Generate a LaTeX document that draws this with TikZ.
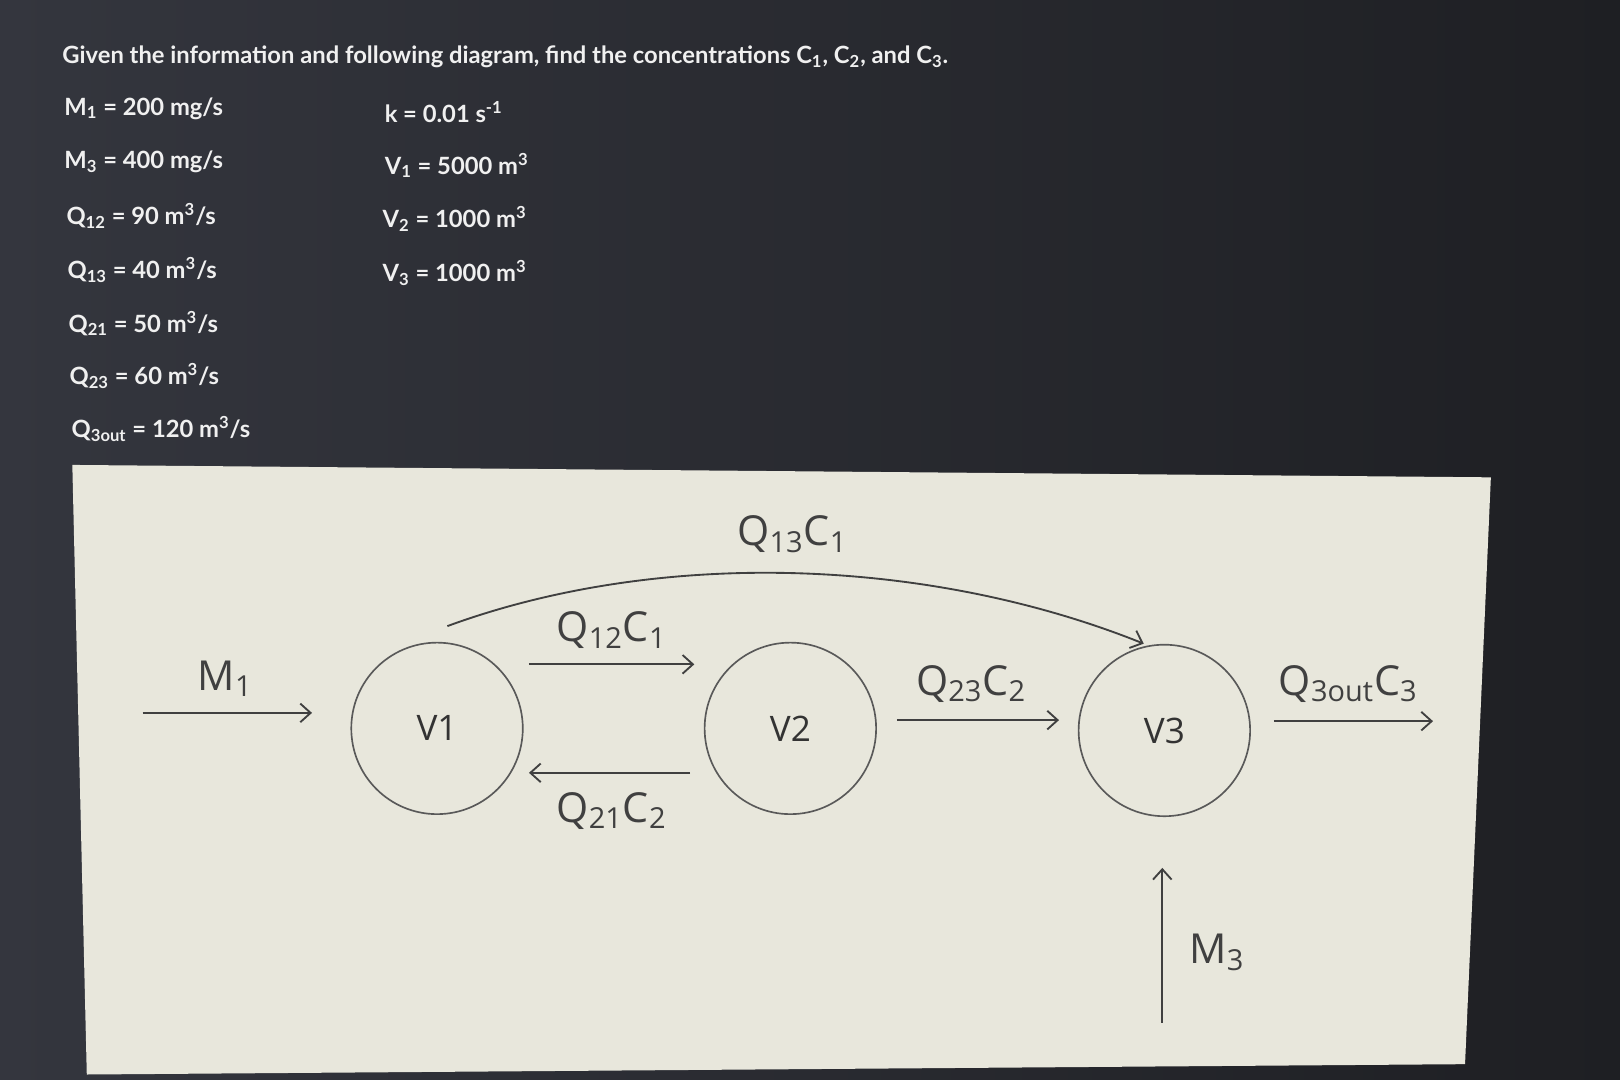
\documentclass[tikz,border=0pt]{standalone}
\usepackage{fontspec}
\setmainfont{Lato}
\newfontfamily\diag{Open Sans}
\usetikzlibrary{arrows.meta}
\newcommand{\sbs}[1]{\textsubscript{#1}}
\newcommand{\sps}[1]{\textsuperscript{#1}}
\begin{document}
\begin{tikzpicture}[x=0.5pt,y=-0.5pt,
  top/.style={anchor=west,text=white!88!gray,font=\fontsize{11.5}{14}\selectfont\bfseries,inner sep=0},
  lbl/.style={font=\diag\fontsize{20}{22}\selectfont,text=black!75,inner sep=0},
  vol/.style={circle,draw=black!65,line width=0.8pt,minimum size=83pt,font=\diag\fontsize{17}{20}\selectfont,text=black!80},
  arr/.style={-{Straight Barb[length=5pt,width=9pt]},draw=black!75,line width=0.9pt}]
\useasboundingbox (0,0) rectangle (1568,1045);
\fill[left color={rgb,255:red,52;green,54;blue,62}, right color={rgb,255:red,30;green,31;blue,35}] (0,0) rectangle (1568,1045);
\fill[color={rgb,255:red,232;green,231;blue,220}] (70,450) -- (1443,462) -- (1418,1030) -- (84,1040) -- cycle;
\node[top] (t0) at (60,55) {Given the information and following diagram, find the concentrations C\sbs{1}, C\sbs{2}, and C\sbs{3}.};
\node[top] (a1) at (62,105) {M\sbs{1} = 200 mg/s};
\node[top] (a2) at (62,157) {M\sbs{3} = 400 mg/s};
\node[top] (a3) at (64,209) {Q\sbs{12} = 90 m\sps{3}/s};
\node[top] (a4) at (65,261) {Q\sbs{13} = 40 m\sps{3}/s};
\node[top] (a5) at (66,313) {Q\sbs{21} = 50 m\sps{3}/s};
\node[top] (a6) at (67,364) {Q\sbs{23} = 60 m\sps{3}/s};
\node[top] (a7) at (69,415) {Q\sbs{3out} = 120 m\sps{3}/s};
\node[top] (b1) at (372,108) {k = 0.01 s\sps{-1}};
\node[top] (b2) at (372,160) {V\sbs{1} = 5000 m\sps{3}};
\node[top] (b3) at (370,212) {V\sbs{2} = 1000 m\sps{3}};
\node[top] (b4) at (370,264) {V\sbs{3} = 1000 m\sps{3}};
\node[vol] (v1) at (423,705) {V1};
\node[vol] (v2) at (765,705) {V2};
\node[vol] (v3) at (1127,707) {V3};
\coordinate (m1a) at (138,690); \coordinate (m1b) at (302,690);
\draw[arr] (m1a) -- (m1b);
\node[lbl] (lm1) at (218,657) {M\sbs{1}};
\coordinate (p1) at (512,643); \coordinate (p2) at (672,643);
\draw[arr] (p1) -- (p2);
\node[lbl] (l12) at (592,610) {Q\sbs{12}C\sbs{1}};
\coordinate (p3) at (668,748); \coordinate (p4) at (512,748);
\draw[arr] (p3) -- (p4);
\node[lbl] (l21) at (592,785) {Q\sbs{21}C\sbs{2}};
\coordinate (p5) at (868,697); \coordinate (p6) at (1025,697);
\draw[arr] (p5) -- (p6);
\node[lbl] (l23) at (940,662) {Q\sbs{23}C\sbs{2}};
\coordinate (p7) at (1233,698); \coordinate (p8) at (1387,698);
\draw[arr] (p7) -- (p8);
\node[lbl] (l3o) at (1305,662) {Q\sbs{3out}C\sbs{3}};
\coordinate (c1) at (433,606); \coordinate (c2) at (1107,623);
\draw[arr] (c1) .. controls (640,530) and (900,540) .. (c2);
\node[lbl] (l13) at (767,517) {Q\sbs{13}C\sbs{1}};
\coordinate (m3a) at (1125,990); \coordinate (m3b) at (1125,840);
\draw[arr] (m3a) -- (m3b);
\node[lbl] (lm3) at (1178,922) {M\sbs{3}};
\end{tikzpicture}
\end{document}
